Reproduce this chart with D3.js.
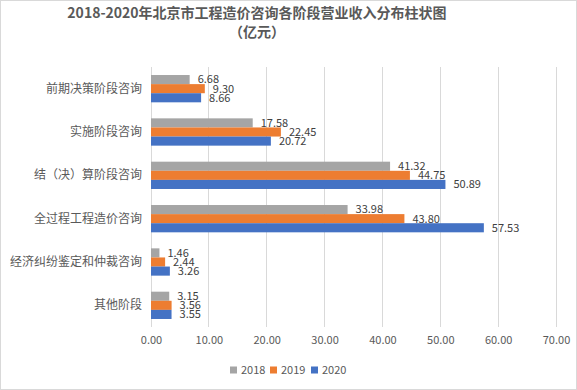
<!DOCTYPE html>
<html><head><meta charset="utf-8">
<script src="https://cdn.jsdelivr.net/npm/d3@7"></script>
<style>body{margin:0;background:#fff;}svg{display:block;font-family:"Noto Sans CJK SC","Noto Sans",sans-serif;}</style>
</head><body>
<svg id="chart" width="577" height="390"></svg>
<script>
const categories = ["前期决策阶段咨询","实施阶段咨询","结（决）算阶段咨询","全过程工程造价咨询","经济纠纷鉴定和仲裁咨询","其他阶段"];
const seriesNames = ["2018","2019","2020"];
const values2018 = [6.68,17.58,41.32,33.98,1.46,3.15];
const values2019 = [9.30,22.45,44.75,43.80,2.44,3.56];
const values2020 = [8.66,20.72,50.89,57.53,3.26,3.55];
const xTicks = [0,10,20,30,40,50,60,70];
const colors = ["#A5A5A5","#ED7D31","#4472C4"];
const titleLines = ["2018-2020年北京市工程造价咨询各阶段营业收入分布柱状图","（亿元）"];

const svg = d3.select("#chart");
const W = 577, H = 390;
svg.append("rect").attr("x",0.5).attr("y",0.5).attr("width",W-1).attr("height",H-1)
  .attr("fill","#fff").attr("stroke","#D9D9D9");

const m = {left:151, right:21, top:67, bottom:63};
const x = d3.scaleLinear().domain([0,70]).range([m.left, W-m.right]);
const y = d3.scaleBand().domain(categories).range([m.top, H-m.bottom]).paddingInner(0.37).paddingOuter(0.185);
const ySub = d3.scaleBand().domain(seriesNames).range([0, y.bandwidth()]);

// title
svg.append("g").selectAll("text").data(titleLines).join("text")
  .attr("x", 257).attr("y",(d,i)=>18+i*19).attr("text-anchor","middle")
  .attr("font-size",14).attr("font-weight","bold").attr("fill","#595959").text(d=>d);

// grid
svg.append("g").selectAll("line").data(xTicks).join("line")
  .attr("x1",d=>x(d)).attr("x2",d=>x(d)).attr("y1",m.top).attr("y2",H-m.bottom)
  .attr("stroke","#D9D9D9").attr("stroke-width",1).attr("shape-rendering","crispEdges");

// x axis labels
const xAxis = d3.axisBottom(x).tickValues(xTicks).tickFormat(d3.format(".2f")).tickSize(0).tickPadding(9);
const gx = svg.append("g").attr("transform",`translate(0,${H-m.bottom})`).call(xAxis);
gx.select(".domain").remove();
gx.selectAll("text").attr("font-size",11).attr("fill","#595959").attr("font-family","Noto Sans CJK SC, sans-serif");

// y axis labels
const yAxis = d3.axisLeft(y).tickSize(0).tickPadding(9);
const gy = svg.append("g").attr("transform",`translate(${m.left},0)`).call(yAxis);
gy.select(".domain").remove();
gy.selectAll("text").attr("font-size",12).attr("fill","#595959").attr("font-family","Noto Sans CJK SC, sans-serif");

const allSeries = [values2018, values2019, values2020];
const rows = [];
categories.forEach((c,i)=>{
  seriesNames.forEach((s,j)=>rows.push({cat:c, ser:s, v:allSeries[j][i], color:colors[j]}));
});

svg.append("g").selectAll("rect").data(rows).join("rect")
  .attr("x", x(0)).attr("y", d=>y(d.cat)+ySub(d.ser))
  .attr("width", d=>x(d.v)-x(0)).attr("height", ySub.bandwidth())
  .attr("fill", d=>d.color);

svg.append("g").selectAll("text").data(rows).join("text")
  .attr("x", d=>x(d.v)+8).attr("y", d=>y(d.cat)+ySub(d.ser)+ySub.bandwidth()/2)
  .attr("dy","0.35em").attr("font-size",11).attr("fill","#404040")
  .text(d=>d3.format(".2f")(d.v));

// legend
const legX = [230, 270, 311];
const lg = svg.append("g").selectAll("g").data(seriesNames).join("g")
  .attr("transform",(d,i)=>`translate(${legX[i]},370)`);
lg.append("rect").attr("x",0).attr("y",-3.5).attr("width",7).attr("height",7).attr("fill",(d,i)=>colors[i]);
lg.append("text").attr("x",11).attr("y",0).attr("dy","0.35em").attr("font-size",11).attr("fill","#595959").text(d=>d);
</script>
</body></html>
